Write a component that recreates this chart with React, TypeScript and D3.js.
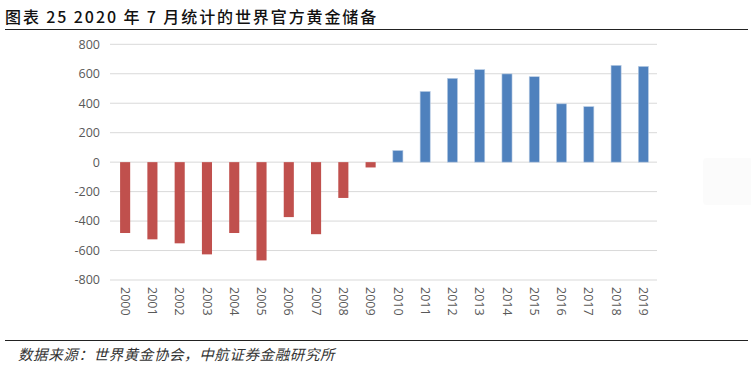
import React from "react";
import * as d3 from "d3";

const years = ["2000","2001","2002","2003","2004","2005","2006","2007","2008","2009","2010","2011","2012","2013","2014","2015","2016","2017","2018","2019"];
const reserves = [-481,-524,-551,-626,-481,-667,-373,-489,-243,-36,79,480,569,628,599,580,396,377,657,650];
const yTicks = [800,600,400,200,0,-200,-400,-600,-800];
const title = "图表 25 2020 年 7 月统计的世界官方黄金储备";
const source = "数据来源：世界黄金协会，中航证券金融研究所";

export default function App() {
  const W = 751, H = 371;
  const x = d3.scaleBand().domain(years).range([111.5, 657]).paddingInner(0.63).paddingOuter(0.315);
  const y = d3.scaleLinear().domain([-800, 800]).range([280, 44.3]);
  const cjk = "'Noto Sans CJK SC', 'Noto Sans', sans-serif";
  return (
    <svg width={W} height={H} style={{ position: "absolute", left: 0, top: 0, background: "#fff" }}>
      <text x={5} y={23} fontFamily={cjk} fontSize={16} fontWeight={500} fill="#111" letterSpacing={1.9}>{title}</text>
      <line x1={5} x2={748} y1={29.5} y2={29.5} stroke="#222" strokeWidth={1.2} />
      {yTicks.map(t => (
        <g key={t}>
          <line x1={110} x2={657} y1={y(t)} y2={y(t)} stroke="#d9d9d9" strokeWidth={1} />
          <text x={100} y={y(t)} dy="0.35em" textAnchor="end" fontFamily="'Open Sans', 'Noto Sans', sans-serif" fontSize={12.5} fill="#595959">{t}</text>
        </g>
      ))}
      {years.map((yr, i) => {
        const v = reserves[i];
        const bx = x(yr)!;
        const top = v >= 0 ? y(v) : y(0);
        const h = Math.abs(y(v) - y(0));
        return (
          <rect key={yr} x={bx} y={top} width={x.bandwidth()} height={h}
            fill={v >= 0 ? "#4f81bd" : "#c0504d"}
            stroke={v >= 0 ? "#b9cde5" : "none"} strokeWidth={v >= 0 ? 0.6 : 0} />
        );
      })}
      {years.map(yr => {
        const cx = x(yr)! + x.bandwidth() / 2;
        return (
          <text key={"l" + yr} transform={`translate(${cx},287) rotate(90)`} dy="0.35em"
            fontFamily="'Open Sans', 'Noto Sans', sans-serif" fontSize={12.5} fill="#595959">{yr}</text>
        );
      })}
      <line x1={5} x2={748} y1={340.5} y2={340.5} stroke="#222" strokeWidth={1.2} />
      <text x={18} y={360} fontFamily={cjk} fontSize={14.5} fontStyle="italic" fill="#333" letterSpacing={0.6}>{source}</text>
      <rect x={703} y={158} width={50} height={47} rx={4} fill="#f9f9f9" opacity={0.6} />
    </svg>
  );
}
